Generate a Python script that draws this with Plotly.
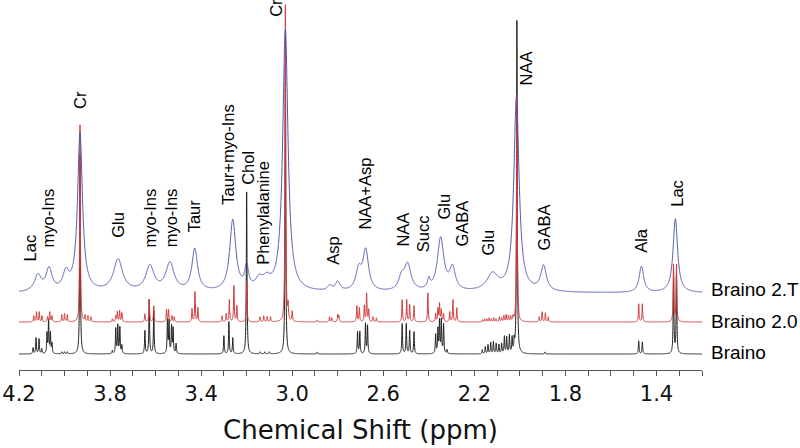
import numpy as np
import plotly.graph_objects as go

# ---------------- data ----------------
# chemical-shift grid of the plotted spectra (ppm)
shift_ppm = np.linspace(4.2, 1.2, 6001)

# Braino 2.T (broad lines): centre ppm, peak height, half width (ppm)
b2t_ppm = [4.117, 4.068, 3.994, 3.932, 3.765, 3.625, 3.537, 3.428, 3.261, 3.200,
           3.145, 3.112, 3.030, 2.835, 2.800, 2.708, 2.677, 2.520, 2.493, 2.400,
           2.348, 2.296, 2.120, 2.015, 1.896, 1.466, 1.317]
b2t_h = [16, 22, 17, 158, 32, 25, 28, 42, 71, 22,
         10, 9, 262, 5, 9, 20, 40, 12, 26, 9,
         53, 22, 17, 194, 25, 26, 74]
b2t_w = [0.018, 0.016, 0.016, 0.013, 0.024, 0.022, 0.022, 0.015, 0.016, 0.010,
         0.020, 0.020, 0.014, 0.012, 0.012, 0.015, 0.015, 0.015, 0.018, 0.007,
         0.017, 0.015, 0.030, 0.014, 0.015, 0.012, 0.012]

# Braino 2.0 (sharp multiplets): centre ppm, peak height
b20_ppm = [4.135, 4.123, 4.111, 4.099, 4.075, 4.065, 4.055, 4.012, 4.000, 3.988,
           3.932, 3.910, 3.897, 3.884, 3.790, 3.775, 3.768, 3.758, 3.748,
           3.647, 3.628, 3.608, 3.552, 3.543, 3.528, 3.518, 3.440, 3.427, 3.414,
           3.308, 3.290, 3.276, 3.256, 3.243, 3.200, 3.142, 3.125, 3.110, 3.095,
           3.030, 3.018, 3.000, 2.890, 2.836, 2.826, 2.800, 2.795,
           2.716, 2.705, 2.683, 2.673, 2.664, 2.645, 2.630,
           2.517, 2.497, 2.484, 2.465, 2.404, 2.370, 2.360, 2.353, 2.345, 2.335,
           2.308, 2.294, 2.277,
           2.165, 2.155, 2.145, 2.135, 2.125, 2.115, 2.105, 2.090, 2.080, 2.070,
           2.060, 2.050, 2.040, 2.030, 2.013,
           1.915, 1.902, 1.888, 1.875, 1.478, 1.462, 1.325, 1.312]
b20_h = [6, 10, 10, 6, 5, 10, 6, 7, 8, 7,
         197, 6, 6, 5, 3, 6, 10, 11, 9,
         8, 22, 16, 12, 12, 6, 5, 13, 30, 14,
         6, 8, 22, 36, 16, 40, 5, 6, 5, 5,
         317, 15, 10, 2, 5, 4, 7, 6,
         16, 14, 16, 28, 12, 5, 4,
         22, 22, 17, 16, 29, 8, 13, 18, 12, 8,
         10, 22, 14,
         2, 3, 3, 4, 3, 4, 3, 5, 4, 6,
         7, 6, 5, 5, 227,
         5, 10, 9, 5, 18, 18, 57, 57]

# Braino (sharp multiplets): centre ppm, peak height
br_ppm = [4.138, 4.125, 4.112, 4.100, 4.077, 4.070, 4.062, 4.055, 4.012, 4.000, 3.988,
          3.932, 3.790, 3.775, 3.766, 3.757, 3.748,
          3.647, 3.628, 3.608, 3.548, 3.541, 3.530, 3.523, 3.510,
          3.300, 3.278, 3.261, 3.200, 3.140, 3.120, 3.100, 3.030, 2.890,
          2.713, 2.703, 2.678, 2.669, 2.517, 2.499, 2.484, 2.465,
          2.370, 2.360, 2.353, 2.345, 2.335, 2.320,
          2.165, 2.152, 2.140, 2.128, 2.116, 2.104, 2.092, 2.080,
          2.068, 2.058, 2.046, 2.034, 2.025, 2.013,
          1.890, 1.478, 1.462, 1.325, 1.312]
br_h = [6, 16, 15, 5, 20, 33, 20, 10, 2, 2, 2,
        200, 3, 25, 28, 26, 8,
        23, 54, 43, 33, 32, 27, 25, 10,
        18, 32, 16, 162, 2, 2, 2, 290, 2,
        22, 22, 30, 28, 30, 30, 23, 22,
        19, 24, 32, 33, 29, 4,
        4, 7, 9, 11, 12, 10, 9, 10,
        17, 16, 18, 15, 11, 333,
        2, 13, 12, 80, 80]
sharp_width = 0.0018

# vertical offsets of the stacked spectra
offsets = {"Braino": 16, "Braino 2.0": 48, "Braino 2.T": 77}

# peak labels: text, ppm, height of label foot
label_text = ["Lac", "myo-Ins", "Cr", "Glu", "myo-Ins", "myo-Ins", "Taur", "Taur+myo-Ins",
              "Chol", "Phenylalanine", "Cr", "Asp", "NAA+Asp", "NAA", "Succ", "Glu",
              "GABA", "Glu", "NAA", "GABA", "Ala", "Lac"]
label_ppm = [4.152, 4.073, 3.932, 3.766, 3.625, 3.533, 3.432, 3.283,
             3.195, 3.129, 3.072, 2.822, 2.682, 2.515, 2.427, 2.335,
             2.256, 2.138, 1.971, 1.892, 1.471, 1.313]
label_y = [107, 121, 259, 130, 121, 121, 136, 163,
           183, 103, 351, 103, 138, 121, 116, 148,
           121, 113, 283, 118, 115, 161]

# series names and the height of their text at the right
series_names = ["Braino 2.T", "Braino 2.0", "Braino"]
series_label_y = [81, 49, 18]

tick_vals = [4.2, 3.8, 3.4, 3.0, 2.6, 2.2, 1.8, 1.4]
tick_text = ["4.2", "3.8", "3.4", "3.0", "2.6", "2.2", "1.8", "1.4"]


def lorentz_sum(centres, heights, widths):
    c = np.asarray(centres, float)[:, None]
    h = np.asarray(heights, float)[:, None]
    w = np.broadcast_to(np.asarray(widths, float), c.shape[:1])[:, None]
    return (h * w ** 2 / ((shift_ppm[None, :] - c) ** 2 + w ** 2)).sum(axis=0)


y_br = offsets["Braino"] + lorentz_sum(br_ppm, br_h, sharp_width)
y_b20 = offsets["Braino 2.0"] + lorentz_sum(b20_ppm, b20_h, sharp_width)
y_b2t = offsets["Braino 2.T"] + lorentz_sum(b2t_ppm, b2t_h, b2t_w)

fig = go.Figure()
fig.add_trace(go.Scatter(x=shift_ppm, y=y_br, mode="lines", name="Braino",
                         line=dict(color="#222222", width=1, simplify=False)))
fig.add_trace(go.Scatter(x=shift_ppm, y=y_b20, mode="lines", name="Braino 2.0",
                         line=dict(color="#d33b3b", width=1, simplify=False)))
fig.add_trace(go.Scatter(x=shift_ppm, y=y_b2t, mode="lines", name="Braino 2.T",
                         line=dict(color="#5057b0", width=1, simplify=False)))

for t, xp, yp in zip(label_text, label_ppm, label_y):
    fig.add_annotation(x=xp, y=yp, xref="x", yref="y", text=t, textangle=-90,
                       showarrow=False, xanchor="center", yanchor="bottom",
                       font=dict(family="Liberation Sans, Arial", size=16.5, color="#000"))

for name, yy in zip(series_names, series_label_y):
    fig.add_annotation(x=1.0104, y=yy, xref="paper", yref="y", text=name,
                       showarrow=False, xanchor="left", yanchor="middle",
                       font=dict(family="Liberation Sans, Arial", size=19, color="#000"))

fig.update_layout(
    width=800, height=448,
    margin=dict(l=19, r=98, t=0, b=78),
    paper_bgcolor="white", plot_bgcolor="white",
    showlegend=False,
    xaxis=dict(range=[4.2, 1.2], tickmode="array", tickvals=tick_vals, ticktext=tick_text,
               automargin=False,
               ticks="outside", ticklen=5, tickcolor="#555", tickwidth=1,
               showline=True, linecolor="#555", linewidth=1, showgrid=False, zeroline=False,
               minor=dict(tickmode="linear", tick0=1.2, dtick=0.1, ticks="outside", ticklen=5,
                          tickcolor="#555", showgrid=False),
               tickfont=dict(family="DejaVu Sans", size=21, color="#111"),
               title=dict(text="Chemical Shift (ppm)", standoff=15,
                          font=dict(family="DejaVu Sans", size=26, color="#111"))),
    yaxis=dict(range=[0, 370], visible=False, automargin=False),
)

fig.write_html("out.html", config={"displayModeBar": False},
               post_script="document.body.style.margin='0';document.body.style.overflow='hidden';")
